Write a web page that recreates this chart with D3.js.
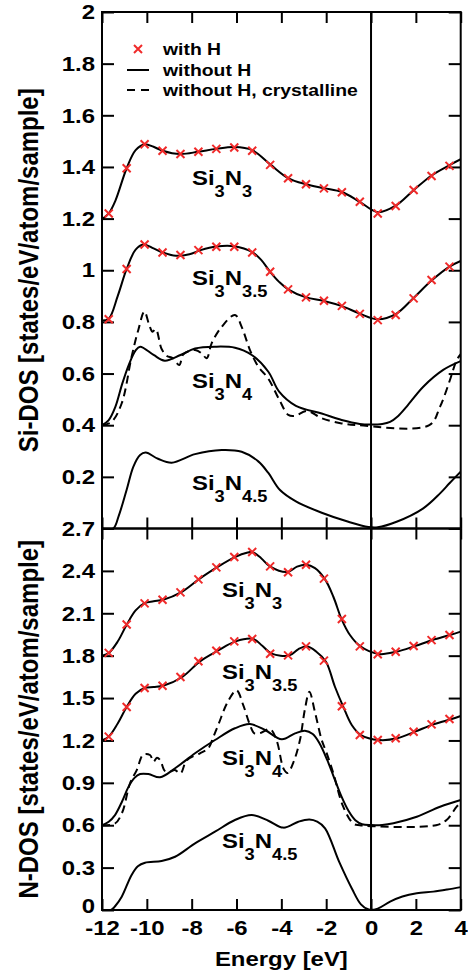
<!DOCTYPE html>
<html><head><meta charset="utf-8">
<script src="https://cdn.jsdelivr.net/npm/d3@7"></script>
<style>
html,body{margin:0;padding:0;background:#fff;}
svg text{font-family:"Liberation Sans",Arial,Helvetica,sans-serif;font-weight:bold;fill:#000;}
</style></head>
<body>
<svg id="chart" width="468" height="979"></svg>
<script>
// ---------- DATA ----------
const xTicks = [-12,-10,-8,-6,-4,-2,0,2,4];
const yTicksTop = [0.2,0.4,0.6,0.8,1,1.2,1.4,1.6,1.8,2];
const yTickLabelsTop = ["0.2","0.4","0.6","0.8","1","1.2","1.4","1.6","1.8","2"];
const yTicksBot = [0,0.3,0.6,0.9,1.2,1.5,1.8,2.1,2.4,2.7];
const yTickLabelsBot = ["0","0.3","0.6","0.9","1.2","1.5","1.8","2.1","2.4","2.7"];

const legendLabels = ["with H","without H","without H, crystalline"];
const xTitle = "Energy [eV]";
const yTitleTop = "Si-DOS [states/eV/atom/sample]";
const yTitleBot = "N-DOS [states/eV/atom/sample]";

// Energies of the "with H" markers
const markerE = [-11.7,-10.9,-10.1,-9.3,-8.5,-7.7,-6.9,-6.1,-5.3,-4.5,-3.7,-2.9,-2.1,-1.3,-0.5,0.3,1.1,1.9,2.7,3.5];

// ---- Si-DOS (top), values as plotted (with vertical offsets) ----
const siN3 = [[-12,1.198],[-11.7,1.22],[-11.4,1.27],[-10.9,1.395],[-10.5,1.465],[-10.1,1.488],[-9.7,1.478],[-9.3,1.463],[-8.5,1.450],[-7.7,1.459],[-6.9,1.47],[-6.1,1.477],[-5.3,1.465],[-4.5,1.41],[-3.7,1.357],[-2.9,1.333],[-2.1,1.318],[-1.3,1.303],[-0.5,1.265],[0.3,1.225],[1.1,1.25],[1.9,1.31],[2.7,1.367],[3.5,1.407],[4,1.43]];
const siN3H = [1.22,1.395,1.488,1.463,1.45,1.459,1.47,1.475,1.463,1.408,1.356,1.333,1.317,1.302,1.265,1.22,1.249,1.311,1.365,1.404];

const siN35 = [[-12,0.805],[-11.7,0.812],[-11.3,0.90],[-10.9,1.005],[-10.5,1.08],[-10.15,1.10],[-9.7,1.085],[-9.3,1.069],[-8.7,1.056],[-8.1,1.062],[-7.6,1.078],[-6.9,1.092],[-6.1,1.093],[-5.3,1.07],[-4.9,1.04],[-4.5,0.994],[-4.1,0.955],[-3.7,0.926],[-2.9,0.895],[-2.1,0.881],[-1.3,0.861],[-0.5,0.832],[0.3,0.81],[1.1,0.83],[1.9,0.893],[2.7,0.96],[3.5,1.014],[4,1.036]];
const siN35H = [0.81,1.005,1.10,1.069,1.059,1.078,1.091,1.091,1.069,0.994,0.926,0.895,0.882,0.862,0.831,0.807,0.827,0.891,0.962,1.014];

const siN4 = [[-12,0.40],[-11.7,0.42],[-11.4,0.472],[-11.1,0.56],[-10.8,0.635],[-10.5,0.69],[-10.3,0.704],[-9.7,0.672],[-9.2,0.65],[-8.5,0.672],[-7.85,0.697],[-6.96,0.704],[-6.07,0.70],[-5.32,0.672],[-4.58,0.607],[-4.1,0.53],[-3.35,0.475],[-2.2,0.445],[-1.31,0.42],[-0.5,0.405],[0,0.403],[0.5,0.405],[0.85,0.413],[1.2,0.435],[1.59,0.472],[2.33,0.549],[3.22,0.614],[4,0.648]];
const siN4c = [[-12,0.40],[-11.57,0.413],[-11.12,0.485],[-10.68,0.665],[-10.38,0.769],[-10.11,0.84],[-9.9,0.79],[-9.75,0.762],[-9.6,0.772],[-9.34,0.695],[-9.1,0.668],[-8.85,0.66],[-8.55,0.633],[-8.37,0.675],[-7.85,0.691],[-7.55,0.678],[-7.33,0.659],[-7.11,0.717],[-6.66,0.781],[-6.07,0.827],[-5.77,0.781],[-5.4,0.691],[-5.03,0.627],[-4.58,0.58],[-4.1,0.50],[-3.69,0.44],[-3.4,0.436],[-2.85,0.455],[-2.2,0.427],[-1.31,0.407],[-0.6,0.40],[2.6,0.40],[3.08,0.472],[3.52,0.575],[3.82,0.652],[4,0.675]];

const siN45 = [[-12,0],[-11.5,0],[-11.25,0.05],[-10.9,0.15],[-10.6,0.24],[-10.3,0.285],[-10.05,0.294],[-9.5,0.27],[-8.89,0.255],[-7.85,0.288],[-6.66,0.304],[-5.77,0.297],[-5.03,0.26],[-4.58,0.215],[-4.06,0.149],[-3.35,0.105],[-2.2,0.061],[-1.01,0.026],[-0.12,0.006],[0.3,0.005],[1.14,0.026],[2.33,0.078],[3.08,0.136],[3.5,0.175],[4,0.22]];

// ---- N-DOS (bottom) ----
const nN3 = [[-12,1.80],[-11.7,1.819],[-11.3,1.90],[-10.9,2.019],[-10.5,2.12],[-10.1,2.172],[-9.7,2.185],[-9.27,2.196],[-8.48,2.248],[-7.67,2.342],[-6.88,2.425],[-6.07,2.498],[-5.5,2.53],[-5.3,2.534],[-4.9,2.49],[-4.51,2.432],[-3.72,2.392],[-3.3,2.43],[-2.9,2.444],[-2.5,2.42],[-2.05,2.34],[-1.68,2.217],[-1.31,2.057],[-0.94,1.946],[-0.49,1.868],[0.33,1.812],[1.14,1.828],[1.96,1.868],[2.75,1.911],[3.52,1.946],[4,1.97]];
const nN3H = [1.82,2.02,2.17,2.196,2.248,2.34,2.425,2.498,2.534,2.432,2.39,2.444,2.345,2.06,1.866,1.81,1.828,1.868,1.91,1.946];

const nN35 = [[-12,1.20],[-11.7,1.227],[-11.3,1.32],[-10.9,1.437],[-10.5,1.53],[-10.1,1.571],[-9.7,1.578],[-9.27,1.587],[-8.42,1.649],[-7.63,1.76],[-6.84,1.835],[-6.04,1.901],[-5.25,1.918],[-4.85,1.87],[-4.43,1.814],[-3.64,1.802],[-3.25,1.845],[-2.87,1.866],[-2.45,1.83],[-2.01,1.757],[-1.61,1.58],[-1.24,1.439],[-0.86,1.309],[-0.45,1.238],[0.37,1.203],[1.17,1.215],[1.96,1.262],[2.78,1.314],[3.6,1.352],[4,1.373]];
const nN35H = [1.227,1.437,1.571,1.587,1.649,1.76,1.835,1.901,1.918,1.814,1.802,1.866,1.765,1.442,1.238,1.203,1.215,1.262,1.314,1.352];

const nN4 = [[-12,0.60],[-11.7,0.625],[-11.42,0.672],[-11.1,0.77],[-10.83,0.868],[-10.55,0.935],[-10.3,0.962],[-9.93,0.962],[-9.41,0.939],[-8.74,1.003],[-7.85,1.109],[-6.96,1.203],[-6.07,1.286],[-5.4,1.316],[-4.73,1.274],[-3.98,1.208],[-3.39,1.25],[-2.95,1.269],[-2.6,1.245],[-2.3,1.18],[-1.95,1.06],[-1.68,0.95],[-1.31,0.80],[-1.0,0.70],[-0.7,0.635],[-0.4,0.607],[0,0.601],[0.5,0.602],[1.0,0.614],[2.04,0.66],[3.08,0.731],[4,0.778]];
const nN4c = [[-12,0.60],[-11.42,0.612],[-11.1,0.69],[-10.75,0.897],[-10.45,0.99],[-10.16,1.10],[-9.86,1.097],[-9.7,1.05],[-9.55,1.078],[-9.4,1.06],[-9.2,0.985],[-8.97,0.979],[-8.75,0.99],[-8.5,0.967],[-8.22,1.06],[-7.63,1.109],[-7.26,1.144],[-7.03,1.226],[-6.81,1.312],[-6.4,1.47],[-6.0,1.555],[-5.7,1.45],[-5.4,1.31],[-5.2,1.25],[-4.9,1.255],[-4.5,1.28],[-4.21,1.20],[-3.9,1.0],[-3.72,0.97],[-3.45,1.05],[-3.17,1.203],[-2.95,1.42],[-2.75,1.545],[-2.5,1.40],[-2.2,1.203],[-2.0,1.12],[-1.68,0.967],[-1.24,0.731],[-0.79,0.612],[-0.5,0.60],[2.9,0.60],[3.37,0.637],[3.82,0.731],[4,0.76]];

const nN45 = [[-12,0],[-11.6,0.0],[-11.4,0.03],[-11.12,0.094],[-10.68,0.248],[-10.4,0.31],[-10.08,0.335],[-9.34,0.347],[-8.74,0.377],[-7.85,0.472],[-6.96,0.554],[-6.07,0.637],[-5.32,0.672],[-4.58,0.632],[-3.91,0.583],[-3.24,0.625],[-2.75,0.64],[-2.4,0.625],[-2.05,0.578],[-1.42,0.34],[-0.85,0.15],[-0.45,0.04],[-0.1,0.003],[0.3,0.01],[0.85,0.059],[1.4,0.095],[2.04,0.118],[2.78,0.13],[3.4,0.145],[4,0.162]];

// text labels of the curves
const curveLabelsTop = [["3","3"],["3","3.5"],["3","4"],["3","4.5"]];
const curveLabelsBot = [["3","3"],["3","3.5"],["3","4"],["3","4.5"]];

// ---------- LAYOUT ----------
const svg = d3.select("#chart");
const L = 102, R = 460.7, T = 12, MID = 528.5, B = 910;
const SX = 1.14;   // horizontal stretch of the lettering
const FONT = "\"Liberation Sans\",Arial,Helvetica,sans-serif";

const x = d3.scaleLinear().domain([-12,4]).range([L,R]);
const yT = d3.scaleLinear().domain([0,2]).range([MID,T]);
const yB = d3.scaleLinear().domain([0,2.7]).range([B,MID]);

svg.append("rect").attr("width",468).attr("height",979).attr("fill","#fff");

const defs = svg.append("defs");
defs.append("clipPath").attr("id","clipT").append("rect").attr("x",L).attr("y",T).attr("width",R-L).attr("height",MID-T);
defs.append("clipPath").attr("id","clipB").append("rect").attr("x",L).attr("y",MID).attr("width",R-L).attr("height",B-MID);

function stretchTexts(sel){
  sel.selectAll(".tick text").each(function(){
    const t = d3.select(this);
    const tx = +t.attr("x") || 0, ty = +t.attr("y") || 0;
    t.attr("x",0).attr("y",0).attr("transform",`translate(${tx},${ty}) scale(${SX},1)`);
  });
}
function styleAxis(g){
  g.select(".domain").remove();
  g.selectAll(".tick line").attr("stroke","#000").attr("stroke-width",2);
  g.selectAll(".tick text").attr("font-size",21).attr("font-family",FONT).attr("font-weight","bold").attr("fill","#000");
}

// Top panel axes
let g;
g = svg.append("g").attr("transform",`translate(${L},0)`).call(d3.axisLeft(yT).tickValues(yTicksTop).tickFormat((d,i)=>yTickLabelsTop[i]).tickSizeInner(-12).tickSizeOuter(0).tickPadding(7));
styleAxis(g); stretchTexts(g);
g = svg.append("g").attr("transform",`translate(${R},0)`).call(d3.axisRight(yT).tickValues(yTicksTop).tickFormat("").tickSizeInner(-12).tickSizeOuter(0));
styleAxis(g);
g = svg.append("g").attr("transform",`translate(0,${T})`).call(d3.axisTop(x).tickValues(xTicks).tickFormat("").tickSizeInner(-11).tickSizeOuter(0));
styleAxis(g);
g = svg.append("g").attr("transform",`translate(0,${MID})`).call(d3.axisBottom(x).tickValues(xTicks).tickFormat("").tickSizeInner(-11).tickSizeOuter(0));
styleAxis(g);

// Bottom panel axes
g = svg.append("g").attr("transform",`translate(${L},0)`).call(d3.axisLeft(yB).tickValues(yTicksBot).tickFormat((d,i)=>yTickLabelsBot[i]).tickSizeInner(-12).tickSizeOuter(0).tickPadding(7));
styleAxis(g); stretchTexts(g);
// lift the bottom "0" a little so it does not touch "-12"
g.selectAll(".tick text").filter((d,i)=>i===0).attr("dy","0.1em");
g = svg.append("g").attr("transform",`translate(${R},0)`).call(d3.axisRight(yB).tickValues(yTicksBot).tickFormat("").tickSizeInner(-12).tickSizeOuter(0));
styleAxis(g);
g = svg.append("g").attr("transform",`translate(0,${MID})`).call(d3.axisTop(x).tickValues(xTicks).tickFormat("").tickSizeInner(-11).tickSizeOuter(0));
styleAxis(g);
g = svg.append("g").attr("transform",`translate(0,${B})`).call(d3.axisBottom(x).tickValues(xTicks).tickFormat(d=>String(d)).tickSizeInner(-11).tickSizeOuter(0).tickPadding(10));
styleAxis(g); stretchTexts(g);

// Frames
svg.append("rect").attr("x",L).attr("y",T).attr("width",R-L).attr("height",MID-T).attr("fill","none").attr("stroke","#000").attr("stroke-width",2);
svg.append("rect").attr("x",L).attr("y",MID).attr("width",R-L).attr("height",B-MID).attr("fill","none").attr("stroke","#000").attr("stroke-width",2);
// zero-energy line
svg.append("line").attr("x1",x(0)).attr("x2",x(0)).attr("y1",T).attr("y2",B).attr("stroke","#000").attr("stroke-width",2);

// Curves
function drawLine(data, y, clip, dashed){
  const line = d3.line().x(d=>x(d[0])).y(d=>y(d[1])).curve(d3.curveCatmullRom.alpha(0.5));
  svg.append("path").datum(data).attr("d",line).attr("fill","none").attr("stroke","#000")
    .attr("stroke-width",2).attr("stroke-dasharray",dashed?"8,5":null).attr("clip-path",`url(#${clip})`);
}
function drawMarkers(vals, y){
  const s = 4;
  svg.append("g").selectAll("path").data(markerE.map((e,i)=>[e,vals[i]])).join("path")
    .attr("d",d=>{const cx=x(d[0]), cy=y(d[1]); return `M${cx-s},${cy-s}L${cx+s},${cy+s}M${cx-s},${cy+s}L${cx+s},${cy-s}`;})
    .attr("stroke","#f02a2a").attr("stroke-width",2).attr("fill","none");
}

drawLine(siN45, yT, "clipT", false);
drawLine(siN4c, yT, "clipT", true);
drawLine(siN4, yT, "clipT", false);
drawLine(siN35, yT, "clipT", false);
drawLine(siN3, yT, "clipT", false);
drawMarkers(siN35H, yT);
drawMarkers(siN3H, yT);

drawLine(nN45, yB, "clipB", false);
drawLine(nN4c, yB, "clipB", true);
drawLine(nN4, yB, "clipB", false);
drawLine(nN35, yB, "clipB", false);
drawLine(nN3, yB, "clipB", false);
drawMarkers(nN35H, yB);
drawMarkers(nN3H, yB);

// Curve labels Si_aN_b
function chemLabel(px, py, subs){
  const t = svg.append("text").attr("transform",`translate(${px},${py}) scale(${SX},1)`).attr("font-size",21);
  t.append("tspan").text("Si");
  t.append("tspan").attr("font-size",16).attr("dy",12).text(subs[0]);
  t.append("tspan").attr("dy",-12).text("N");
  t.append("tspan").attr("font-size",16).attr("dy",12).text(subs[1]);
}
const topLabelY = [185,285,388,490];
const botLabelY = [597,679,765,848];
curveLabelsTop.forEach((s,i)=>chemLabel(192, topLabelY[i], s));
curveLabelsBot.forEach((s,i)=>chemLabel(222, botLabelY[i], s));

// Legend
const lg = svg.append("g");
const lgY = [49,70,90];
(function(){
  const cx = 138, cy = lgY[0], s = 4;
  lg.append("path").attr("d",`M${cx-s},${cy-s}L${cx+s},${cy+s}M${cx-s},${cy+s}L${cx+s},${cy-s}`).attr("stroke","#f02a2a").attr("stroke-width",2);
  lg.append("line").attr("x1",127).attr("x2",149).attr("y1",lgY[1]).attr("y2",lgY[1]).attr("stroke","#000").attr("stroke-width",2);
  lg.append("line").attr("x1",127).attr("x2",151).attr("y1",lgY[2]).attr("y2",lgY[2]).attr("stroke","#000").attr("stroke-width",2).attr("stroke-dasharray","8,6");
  legendLabels.forEach((s,i)=>{
    lg.append("text").attr("transform",`translate(163,${lgY[i]+6}) scale(${SX},1)`).attr("font-size",17).text(s);
  });
})();

// Axis titles
svg.append("text").attr("transform",`translate(${(L+R)/2},966) scale(${SX},1)`).attr("text-anchor","middle").attr("font-size",21).text(xTitle);
svg.append("text").attr("transform",`translate(38,${(T+MID)/2}) rotate(-90) scale(1,${SX})`).attr("text-anchor","middle").attr("font-size",24).text(yTitleTop);
svg.append("text").attr("transform",`translate(38,${(MID+B)/2}) rotate(-90) scale(1,${SX})`).attr("text-anchor","middle").attr("font-size",24).text(yTitleBot);
</script>
</body></html>
